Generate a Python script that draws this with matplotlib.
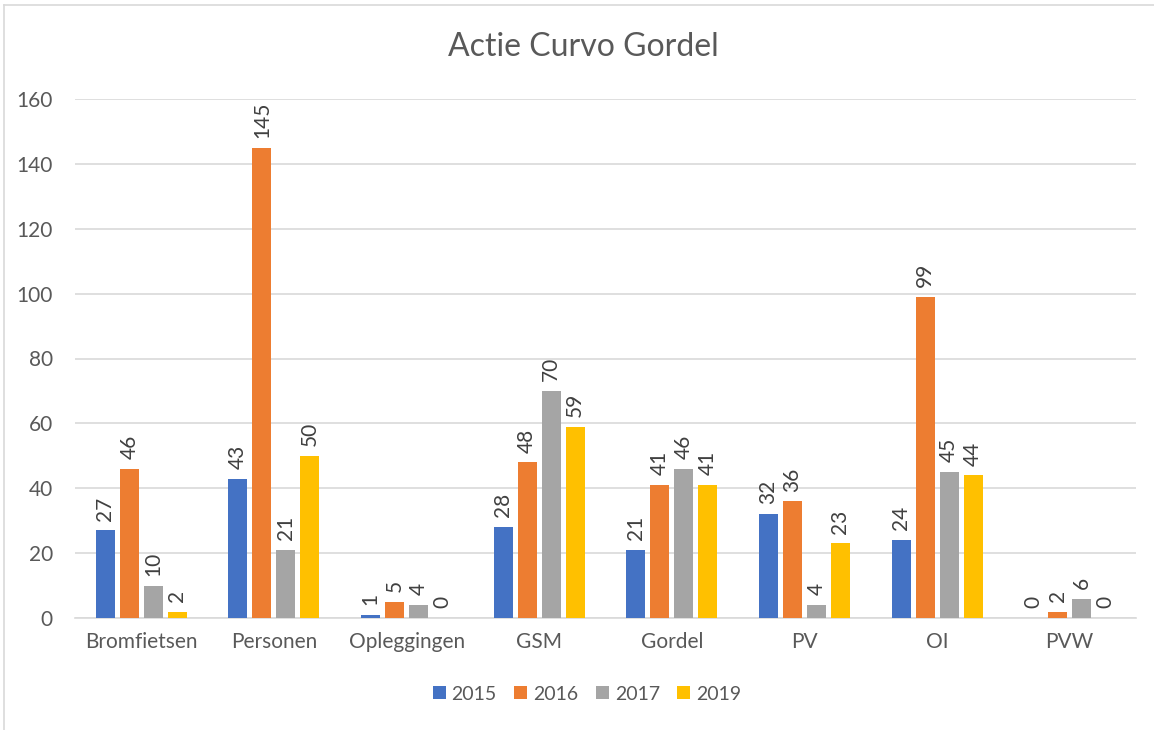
import numpy as np
import matplotlib
matplotlib.use("Agg")
import matplotlib.pyplot as plt

categories = ["Bromfietsen", "Personen", "Opleggingen", "GSM", "Gordel", "PV", "OI", "PVW"]
years = ["2015", "2016", "2017", "2019"]
v2015 = [27, 43, 1, 28, 21, 32, 24, 0]
v2016 = [46, 145, 5, 48, 41, 36, 99, 2]
v2017 = [10, 21, 4, 70, 46, 4, 45, 6]
v2019 = [2, 50, 0, 59, 41, 23, 44, 0]
series = [v2015, v2016, v2017, v2019]
colors = ["#4472C4", "#ED7D31", "#A5A5A5", "#FFC000"]

txt = "#595959"
plt.rcParams['font.family'] = ['Lato', 'DejaVu Sans']

fig = plt.figure(figsize=(11.54, 7.30), dpi=100)
ax = fig.add_axes([75 / 1154, 1 - 618 / 730, (1136 - 75) / 1154, (618 - 99) / 730])

x = np.arange(len(categories))
step = 0.181
width = 0.143
for i, (vals, col, yr) in enumerate(zip(series, colors, years)):
    pos = x + (i - 1.5) * step
    bars = ax.bar(pos, vals, width, color=col, label=yr, zorder=3)
    for b, v in zip(bars, vals):
        ax.annotate(str(v), (b.get_x() + b.get_width() / 2, v), xytext=(0, 7),
                    textcoords="offset points", ha="center", va="bottom",
                    rotation=90, fontsize=15, color="#404040")

ax.set_xlim(-0.5, len(categories) - 0.5)
ax.set_ylim(0, 160)
ax.set_yticks(range(0, 161, 20))
ax.set_xticks(x)
ax.set_xticklabels(categories)
ax.grid(axis="y", color="#D9D9D9", linewidth=1.2, zorder=0)
for s in ["top", "right", "left"]:
    ax.spines[s].set_visible(False)
ax.spines["bottom"].set_color("#D9D9D9")
ax.spines["bottom"].set_linewidth(1.2)
ax.tick_params(axis="both", length=0, labelsize=15, colors=txt)
ax.tick_params(axis="y", pad=16)
ax.tick_params(axis="x", pad=10)

fig.text(583 / 1154, 1 - 47 / 730, "Actie Curvo Gordel", ha="center", va="center",
         fontsize=23, color=txt)

leg = fig.legend(loc="center", bbox_to_anchor=(587 / 1154, 1 - 694 / 730), ncol=4,
                 frameon=False, fontsize=14, handlelength=0.67, handleheight=0.67,
                 handletextpad=0.3, columnspacing=0.9, labelcolor=txt)

# chart border
fig.add_artist(plt.Line2D([4 / 1154, 4 / 1154], [0, 1 - 5 / 730], transform=fig.transFigure,
                          color="#D9D9D9", linewidth=1.2))
fig.add_artist(plt.Line2D([4 / 1154, 1], [1 - 5 / 730, 1 - 5 / 730], transform=fig.transFigure,
                          color="#D9D9D9", linewidth=1.2))

fig.savefig("out.png", dpi=100)
